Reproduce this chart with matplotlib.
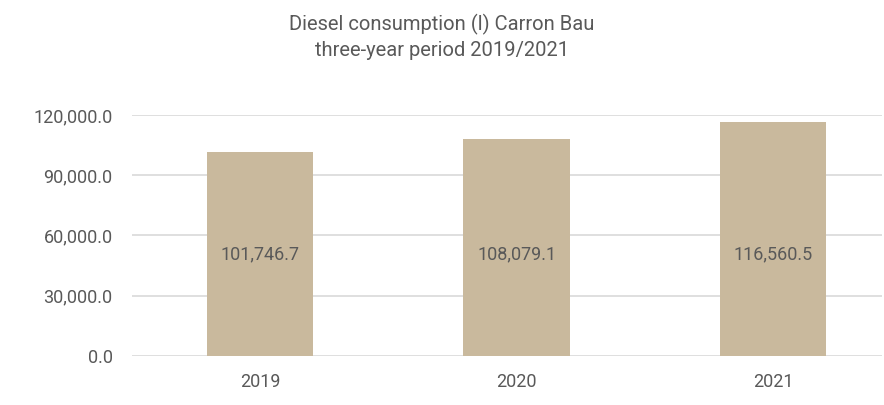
import matplotlib
matplotlib.use("Agg")
import matplotlib.pyplot as plt
import matplotlib.transforms as mtransforms
from matplotlib.ticker import FuncFormatter

years = ["2019", "2020", "2021"]
consumption = [101746.7, 108079.1, 116560.5]
yticks = [0, 30000, 60000, 90000, 120000]

text_color = "#595959"
bar_color = "#c9b99d"
grid_color = "#d9d9d9"

plt.rcParams['font.family'] = ['Roboto', 'DejaVu Sans']

fig = plt.figure(figsize=(8.84, 4.05), dpi=100)
ax = fig.add_axes([132 / 884, 1 - 356 / 405, 750 / 884, (356 - 115) / 405])

x = range(len(years))
bars = ax.bar(x, consumption, width=0.415, color=bar_color, zorder=2)

# labels all sit at the same height, like the original
trans = mtransforms.blended_transform_factory(ax.transData, ax.transAxes)
for b, v in zip(bars, consumption):
    ax.text(b.get_x() + b.get_width() / 2, 0.42, f"{v:,.1f}", transform=trans,
            ha="center", va="center", fontsize=13, color=text_color)

ax.set_ylim(0, 120000)
ax.set_yticks(yticks)
ax.yaxis.set_major_formatter(FuncFormatter(lambda v, p: f"{v:,.1f}"))
ax.set_xlim(-0.5, 2.425)
ax.set_xticks(list(x))
ax.set_xticklabels(years)

ax.grid(axis="y", color=grid_color, linewidth=1.2, zorder=0)
ax.tick_params(axis="both", length=0, labelsize=13, labelcolor=text_color)
ax.tick_params(axis="y", pad=14)
ax.tick_params(axis="x", pad=12)
for s in ax.spines.values():
    s.set_visible(False)

fig.text(0.5, 1 - 37 / 405, "Diesel consumption (l) Carron Bau\nthree-year period 2019/2021",
         ha="center", va="center", fontsize=14.5, color=text_color, linespacing=1.4)

fig.savefig("out.png", dpi=100, facecolor="white")
